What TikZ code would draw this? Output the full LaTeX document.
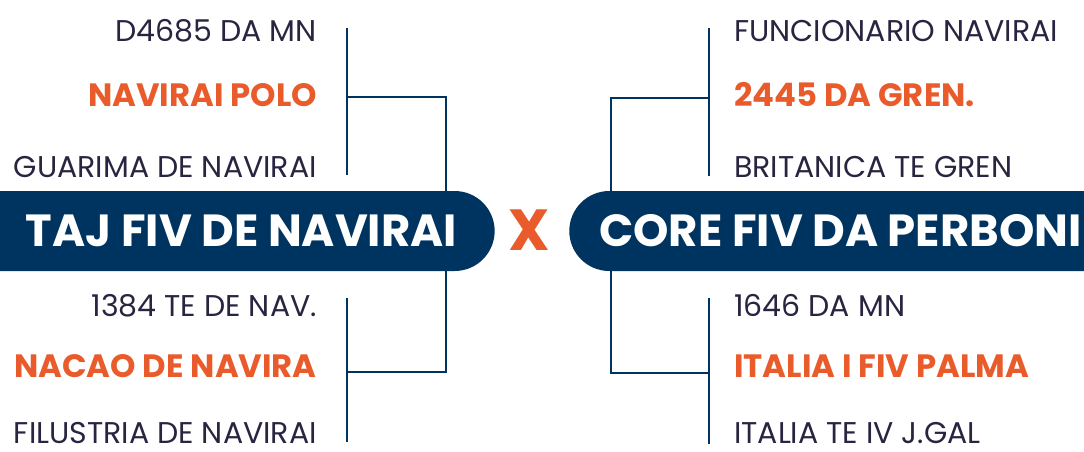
\documentclass[tikz,border=0pt]{standalone}
\usepackage{fontspec}
\setmainfont{Poppins}[BoldFont={* Bold}]
\usetikzlibrary{shapes.misc}
\definecolor{navy}{RGB}{0,52,96}
\definecolor{accent}{RGB}{234,91,43}
\definecolor{ink}{RGB}{42,36,64}
\tikzset{
  conn/.style={draw=navy,line width=2pt},
  bar/.style={rounded rectangle,fill=navy,text=white,minimum height=80pt,inner sep=0pt,
    font=\fontsize{45}{45}\selectfont\bfseries},
  lbl/.style={inner sep=0pt,text=ink,font=\fontsize{30}{30}\selectfont},
  hl/.style={inner sep=0pt,text=accent,font=\fontsize{32.3}{32.3}\selectfont\bfseries},
}
\begin{document}
\begin{tikzpicture}[x=1pt,y=-1pt]
\useasboundingbox (0,0) rectangle (1084,451);
% left tree coordinates
\coordinate (LT1) at (347,28);
\coordinate (LT2) at (347,175);
\coordinate (LTj) at (347,97);
\coordinate (LTc) at (446,97);
\coordinate (LB1) at (347,298);
\coordinate (LB2) at (347,442);
\coordinate (LBj) at (347,372);
\coordinate (LBc) at (446,372);
% right tree coordinates
\coordinate (RT1) at (709,28);
\coordinate (RT2) at (709,176);
\coordinate (RTj) at (709,98);
\coordinate (RTc) at (611,98);
\coordinate (RB1) at (709,298);
\coordinate (RB2) at (709,444);
\coordinate (RBj) at (709,373);
\coordinate (RBc) at (611,373);
% connectors
\draw[conn] (LT1) -- (LT2);
\draw[conn] (LB1) -- (LB2);
\draw[conn] (LTj) -- (LTc) -- (LBc) -- (LBj);
\draw[conn] (RT1) -- (RT2);
\draw[conn] (RB1) -- (RB2);
\draw[conn] (RTj) -- (RTc) -- (RBc) -- (RBj);
% bars
\node[bar,rounded rectangle west arc=none,minimum width=503pt] (barL) at (241.5,231) {TAJ FIV DE NAVIRAI};
\node[bar,rounded rectangle east arc=none,minimum width=539pt] (barR) at (840.5,231) {CORE FIV DA PERBONI};
\node[inner sep=0pt,text=accent,font=\fontsize{58}{58}\selectfont\bfseries] (vs) at (529,230) {X};
% left labels
\node[lbl,anchor=base east] (l1) at (317,41) {D4685 DA MN};
\node[hl,anchor=base east] (l2) at (317,106) {NAVIRAI POLO};
\node[lbl,anchor=base east] (l3) at (317,177) {GUARIMA DE NAVIRAI};
\node[lbl,anchor=base east] (l4) at (317,316) {1384 TE DE NAV.};
\node[hl,anchor=base east] (l5) at (317,377) {NACAO DE NAVIRA};
\node[lbl,anchor=base east] (l6) at (317,443) {FILUSTRIA DE NAVIRAI};
% right labels
\node[lbl,anchor=base west] (r1) at (734,41) {FUNCIONARIO NAVIRAI};
\node[hl,anchor=base west] (r2) at (734,106) {2445 DA GREN.};
\node[lbl,anchor=base west] (r3) at (734,177) {BRITANICA TE GREN};
\node[lbl,anchor=base west] (r4) at (734,316) {1646 DA MN};
\node[hl,anchor=base west] (r5) at (734,377) {ITALIA I FIV PALMA};
\node[lbl,anchor=base west] (r6) at (734,443) {ITALIA TE IV J.GAL};
\end{tikzpicture}
\end{document}
